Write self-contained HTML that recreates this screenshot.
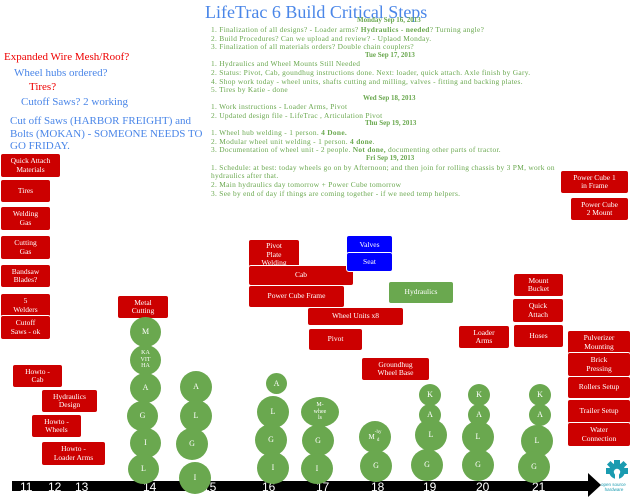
<!DOCTYPE html>
<html><head><meta charset="utf-8"><style>
body{margin:0;width:634px;height:500px;background:#fff;position:relative;overflow:hidden;font-family:"Liberation Serif",serif}
.r{position:absolute;background:#cc0000;color:#fff;border-radius:3px;font-size:7.5px;line-height:8.5px;text-align:center;display:flex;align-items:center;justify-content:center;box-sizing:border-box;border:1px solid #fff}
.b{background:#0000ff}
.g{background:#6aa84f}
.c{position:absolute;background:#6aa84f;color:#fff;border-radius:50%;font-size:8px;line-height:8px;display:flex;align-items:center;justify-content:center;text-align:center}
.t{position:absolute;white-space:nowrap}
.n{position:absolute;white-space:nowrap;font-size:7.4px;letter-spacing:0.3px;color:#6aa84f;left:211px}
.h{position:absolute;white-space:nowrap;font-size:7px;color:#6aa84f;font-weight:bold}
.d{position:absolute;top:480px;color:#fff;font-family:"Liberation Sans",sans-serif;font-size:12px;line-height:14px}
</style></head><body>
<div class="t" style="left:205px;top:2px;font-size:18px;color:#4a86e8">LifeTrac 6 Build Critical Steps</div>
<div class="h" style="left:357px;top:16px">Monday Sep 16, 2013</div>
<div class="n" style="top:25px">1. Finalization of all designs? - Loader arms? <b>Hydraulics - needed</b>? Turning angle?</div>
<div class="n" style="top:34px">2. Build Procedures? Can we upload and review? - Uplaod Monday.</div>
<div class="n" style="top:42px">3. Finalization of all materials orders? Double chain couplers?</div>
<div class="h" style="left:365px;top:51px">Tue Sep 17, 2013</div>
<div class="n" style="top:59px">1. Hydraulics and Wheel Mounts Still Needed</div>
<div class="n" style="top:68px">2. Status: Pivot, Cab, goundhug instructions done. Next: loader, quick attach. Axle finish by Gary.</div>
<div class="n" style="top:77px">4. Shop work today - wheel units, shafts cutting and milling, valves - fitting and backing plates.</div>
<div class="n" style="top:85px">5. Tires by Katie - done</div>
<div class="h" style="left:363px;top:94px">Wed Sep 18, 2013</div>
<div class="n" style="top:102px">1. Work instructions - Loader Arms, Pivot</div>
<div class="n" style="top:111px">2. Updated design file - LifeTrac , Articulation Pivot</div>
<div class="h" style="left:365px;top:119px">Thu Sep 19, 2013</div>
<div class="n" style="top:128px">1. Wheel hub welding - 1 person. <b>4 Done.</b></div>
<div class="n" style="top:137px">2. Modular wheel unit welding - 1 person. <b>4 done</b>.</div>
<div class="n" style="top:145px">3. Documentation of wheel unit - 2 people. <b>Not done,</b> documenting other parts of tractor.</div>
<div class="h" style="left:366px;top:154px">Fri Sep 19, 2013</div>
<div class="n" style="top:163px">1. Schedule: at best: today wheels go on by Afternoon; and then join for rolling chassis by 3 PM, work on</div>
<div class="n" style="top:171px">hydraulics after that.</div>
<div class="n" style="top:180px">2. Main hydraulics day tomorrow + Power Cube tomorrow</div>
<div class="n" style="top:189px">3. See by end of day if things are coming together - if we need temp helpers.</div>

<div class="t" style="left:4px;top:51px;font-size:11px;color:#e00">Expanded Wire Mesh/Roof?</div>
<div class="t" style="left:14px;top:67px;font-size:11px;color:#4a86e8">Wheel hubs ordered?</div>
<div class="t" style="left:29px;top:81px;font-size:11px;color:#e00">Tires?</div>
<div class="t" style="left:21px;top:96px;font-size:11px;color:#4a86e8">Cutoff Saws? 2 working</div>
<div class="t" style="left:10px;top:115px;font-size:11px;line-height:12.5px;color:#4a86e8">Cut off Saws (HARBOR FREIGHT) and<br>Bolts (MOKAN) - SOMEONE NEEDS TO<br>GO FRIDAY.</div>

<div class="r" style="left:0;top:153px;width:61px;height:25px">Quick Attach<br>Materials</div>
<div class="r" style="left:0;top:179px;width:51px;height:24px">Tires</div>
<div class="r" style="left:0;top:206px;width:51px;height:25px">Welding<br>Gas</div>
<div class="r" style="left:0;top:235px;width:51px;height:25px">Cutting<br>Gas</div>
<div class="r" style="left:0;top:264px;width:51px;height:24px">Bandsaw<br>Blades?</div>
<div class="r" style="left:0;top:293px;width:51px;height:25px">5<br>Welders</div>
<div class="r" style="left:0;top:315px;width:51px;height:25px">Cutoff<br>Saws - ok</div>
<div class="r" style="left:117px;top:295px;width:52px;height:24px">Metal<br>Cutting</div>
<div class="r" style="left:12px;top:364px;width:51px;height:24px">Howto -<br>Cab</div>
<div class="r" style="left:41px;top:389px;width:57px;height:24px">Hydraulics<br>Design</div>
<div class="r" style="left:31px;top:414px;width:51px;height:24px">Howto -<br>Wheels</div>
<div class="r" style="left:41px;top:441px;width:65px;height:25px">Howto -<br>Loader Arms</div>
<div class="r" style="left:248px;top:239px;width:52px;height:32px;align-items:flex-start;padding-top:2px">Pivot<br>Plate<br>Welding</div>
<div class="r" style="left:248px;top:265px;width:106px;height:21px">Cab</div>
<div class="r" style="left:248px;top:285px;width:97px;height:23px">Power Cube Frame</div>
<div class="r b" style="left:346px;top:235px;width:47px;height:20px">Valves</div>
<div class="r b" style="left:346px;top:252px;width:47px;height:20px">Seat</div>
<div class="r g" style="left:388px;top:281px;width:66px;height:23px">Hydraulics</div>
<div class="r" style="left:307px;top:307px;width:97px;height:19px">Wheel Units x8</div>
<div class="r" style="left:308px;top:328px;width:55px;height:23px">Pivot</div>
<div class="r" style="left:361px;top:357px;width:69px;height:24px">Groundhug<br>Wheel Base</div>
<div class="r" style="left:560px;top:170px;width:69px;height:24px">Power Cube 1<br>in Frame</div>
<div class="r" style="left:570px;top:197px;width:59px;height:24px">Power Cube<br>2 Mount</div>
<div class="r" style="left:513px;top:273px;width:51px;height:24px">Mount<br>Bucket</div>
<div class="r" style="left:512px;top:298px;width:52px;height:25px">Quick<br>Attach</div>
<div class="r" style="left:513px;top:324px;width:51px;height:24px">Hoses</div>
<div class="r" style="left:458px;top:325px;width:52px;height:24px">Loader<br>Arms</div>
<div class="r" style="left:567px;top:330px;width:64px;height:25px">Pulverizer<br>Mounting</div>
<div class="r" style="left:567px;top:352px;width:64px;height:25px">Brick<br>Pressing</div>
<div class="r" style="left:567px;top:376px;width:64px;height:23px">Rollers Setup</div>
<div class="r" style="left:567px;top:399px;width:64px;height:25px">Trailer Setup</div>
<div class="r" style="left:567px;top:422px;width:64px;height:25px">Water<br>Connection</div>

<div style="position:absolute;left:12px;top:481px;width:580px;height:10px;background:#000"></div>
<svg style="position:absolute;left:588px;top:473px" width="14" height="24"><polygon points="0,0 13,12 0,24" fill="#000"/></svg>
<div class="d" style="left:20px">11</div><div class="d" style="left:48px">12</div><div class="d" style="left:75px">13</div>
<div class="d" style="left:143px">14</div><div class="d" style="left:203px">15</div><div class="d" style="left:262px">16</div>
<div class="d" style="left:316px">17</div><div class="d" style="left:371px">18</div><div class="d" style="left:423px">19</div>
<div class="d" style="left:476px">20</div><div class="d" style="left:532px">21</div>

<div class="c" style="left:130px;top:317px;width:31px;height:30px">M</div>
<div class="c" style="left:130px;top:345px;width:31px;height:30px;font-size:6px;line-height:6.5px">KA<br>VIT<br>HA</div>
<div class="c" style="left:130px;top:373px;width:31px;height:30px">A</div>
<div class="c" style="left:127px;top:401px;width:31px;height:30px">G</div>
<div class="c" style="left:130px;top:428px;width:31px;height:30px">I</div>
<div class="c" style="left:128px;top:454px;width:31px;height:30px">L</div>
<div class="c" style="left:180px;top:371px;width:32px;height:32px">A</div>
<div class="c" style="left:180px;top:400px;width:32px;height:32px">L</div>
<div class="c" style="left:176px;top:428px;width:32px;height:32px">G</div>
<div class="c" style="left:179px;top:462px;width:32px;height:32px">I</div>
<div class="c" style="left:266px;top:373px;width:21px;height:21px">A</div>
<div class="c" style="left:257px;top:396px;width:32px;height:32px">L</div>
<div class="c" style="left:255px;top:424px;width:32px;height:32px">G</div>
<div class="c" style="left:257px;top:452px;width:32px;height:32px">I</div>
<div class="c" style="left:301px;top:397px;width:38px;height:30px;font-size:6px;line-height:6.5px">M-<br>whee<br>ls</div>
<div class="c" style="left:302px;top:425px;width:32px;height:31px">G</div>
<div class="c" style="left:301px;top:453px;width:32px;height:31px">I</div>
<div class="c" style="left:359px;top:421px;width:32px;height:32px;font-size:7px;line-height:8px">M<br><span style="font-size:5px">-hy<br>d</span></div>
<div class="c" style="left:360px;top:450px;width:32px;height:32px">G</div>
<div class="c" style="left:419px;top:384px;width:22px;height:22px">K</div>
<div class="c" style="left:419px;top:404px;width:22px;height:22px">A</div>
<div class="c" style="left:415px;top:419px;width:32px;height:32px">L</div>
<div class="c" style="left:411px;top:449px;width:32px;height:32px">G</div>
<div class="c" style="left:468px;top:384px;width:22px;height:22px">K</div>
<div class="c" style="left:468px;top:404px;width:22px;height:22px">A</div>
<div class="c" style="left:462px;top:421px;width:32px;height:32px">L</div>
<div class="c" style="left:462px;top:449px;width:32px;height:32px">G</div>
<div class="c" style="left:529px;top:384px;width:22px;height:22px">K</div>
<div class="c" style="left:529px;top:404px;width:22px;height:22px">A</div>
<div class="c" style="left:521px;top:425px;width:32px;height:32px">L</div>
<div class="c" style="left:518px;top:451px;width:32px;height:32px">G</div>

<svg style="position:absolute;left:603px;top:460px" width="28" height="24" viewBox="0 0 28 24">
<g fill="#1a9bb0"><circle cx="14" cy="11" r="8"/><rect x="11" y="0" width="6" height="5"/><rect x="3" y="8" width="5" height="6"/><rect x="20" y="8" width="5" height="6"/><rect x="5" y="2" width="5" height="5" transform="rotate(45 7.5 4.5)"/><rect x="18" y="2" width="5" height="5" transform="rotate(45 20.5 4.5)"/></g>
<circle cx="14" cy="12" r="3.2" fill="#fff"/><rect x="12" y="13" width="4" height="8" fill="#fff"/></svg>
<div class="t" style="left:601px;top:482px;font-size:4.5px;line-height:5px;color:#1a9bb0;font-family:'Liberation Sans',sans-serif;text-align:center">open source<br>&nbsp;hardware</div>
</body></html>
